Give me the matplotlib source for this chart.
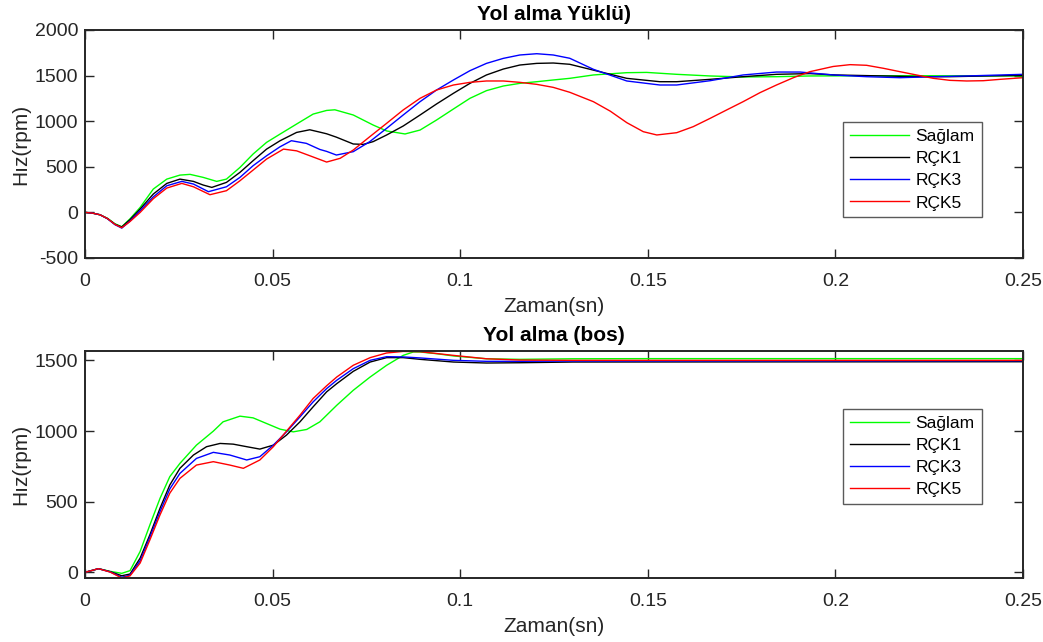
import matplotlib
matplotlib.use("Agg")
import matplotlib.pyplot as plt

plt.rcParams['font.family'] = ['Liberation Sans', 'DejaVu Sans']
plt.rcParams['axes.unicode_minus'] = False

# --- top panel: Yol alma Yüklü) ---
t_g1 = [0, 0.002, 0.004, 0.006, 0.008, 0.0098, 0.012, 0.0147, 0.0182, 0.0218, 0.0253, 0.028,
        0.0315, 0.0351, 0.0377, 0.0413, 0.0448, 0.0484, 0.052, 0.0564, 0.0608, 0.0644, 0.0666,
        0.0715, 0.0768, 0.0804, 0.0853, 0.0893, 0.0937, 0.0982, 0.1026, 0.107, 0.1115, 0.1159,
        0.1204, 0.1248, 0.1292, 0.1355, 0.1444, 0.1497, 0.1577, 0.1666, 0.1754, 0.1843, 0.1932,
        0.2, 0.22, 0.25]
v_g1 = [0, -8, -26, -65, -125, -157, -70, 55, 256, 365, 409, 417,
        384, 340, 365, 493, 640, 768, 859, 969, 1078, 1118, 1125,
        1068, 958, 893, 860, 903, 1013, 1134, 1251, 1335, 1386, 1415,
        1433, 1452, 1470, 1507, 1532, 1535, 1514, 1496, 1485, 1488, 1496,
        1497, 1499, 1496]

t_k1 = [0, 0.002, 0.004, 0.006, 0.008, 0.0098, 0.012, 0.0147, 0.0182, 0.0218, 0.0253, 0.0289,
        0.0315, 0.0338, 0.0377, 0.0413, 0.0448, 0.0484, 0.052, 0.0564, 0.0599, 0.0626, 0.0644,
        0.067, 0.0715, 0.0742, 0.0768, 0.0804, 0.0848, 0.0893, 0.0937, 0.0982, 0.1026, 0.107,
        0.1115, 0.1159, 0.1204, 0.1248, 0.1292, 0.1355, 0.1444, 0.1532, 0.1577, 0.1666, 0.1754,
        0.1843, 0.1932, 0.2, 0.2128, 0.2216, 0.2305, 0.24, 0.25]
v_k1 = [0, -8, -26, -68, -130, -160, -80, 37, 201, 318, 365, 340,
        300, 274, 329, 439, 567, 694, 786, 877, 906, 880, 862,
        825, 750, 746, 776, 849, 947, 1068, 1189, 1306, 1415, 1507,
        1572, 1616, 1634, 1638, 1624, 1560, 1470, 1433, 1433, 1459, 1488,
        1514, 1522, 1507, 1496, 1488, 1488, 1496, 1503]

t_b1 = [0, 0.002, 0.004, 0.006, 0.008, 0.0098, 0.012, 0.0147, 0.0182, 0.0218, 0.0258, 0.0289,
        0.0329, 0.0377, 0.0413, 0.0448, 0.0484, 0.052, 0.055, 0.059, 0.0626, 0.0644, 0.067,
        0.0715, 0.0759, 0.0804, 0.0848, 0.0893, 0.0937, 0.0982, 0.1026, 0.107, 0.1115, 0.1159,
        0.1204, 0.1248, 0.1292, 0.1355, 0.1444, 0.1532, 0.1577, 0.1666, 0.1754, 0.1843, 0.1906,
        0.1994, 0.2083, 0.2172, 0.2261, 0.235, 0.25]
v_b1 = [0, -8, -26, -70, -135, -172, -95, 18, 170, 292, 340, 311,
        227, 281, 384, 512, 621, 720, 786, 757, 690, 669, 629,
        666, 776, 922, 1068, 1214, 1342, 1452, 1554, 1634, 1689, 1726,
        1740, 1726, 1690, 1569, 1441, 1397, 1397, 1444, 1507, 1539, 1539,
        1507, 1488, 1477, 1488, 1496, 1514]

t_r1 = [0, 0.002, 0.004, 0.006, 0.008, 0.0098, 0.012, 0.0147, 0.0182, 0.0218, 0.0258, 0.0289,
        0.0333, 0.0377, 0.0413, 0.0448, 0.0484, 0.0529, 0.0564, 0.06, 0.0644, 0.068, 0.0715,
        0.0759, 0.0804, 0.0848, 0.0893, 0.0937, 0.0982, 0.1026, 0.107, 0.1115, 0.1159, 0.1204,
        0.1248, 0.1292, 0.1355, 0.14, 0.1444, 0.1488, 0.1524, 0.1577, 0.1621, 0.1666, 0.171,
        0.1754, 0.1799, 0.1843, 0.1888, 0.1932, 0.1994, 0.2039, 0.2083, 0.2128, 0.2172, 0.2216,
        0.2261, 0.2305, 0.235, 0.2394, 0.2439, 0.25]
v_r1 = [0, -8, -26, -68, -132, -168, -100, 0, 150, 267, 318, 281,
        194, 238, 347, 464, 585, 694, 675, 620, 552, 593, 684,
        830, 977, 1123, 1251, 1342, 1397, 1426, 1441, 1441, 1426, 1404,
        1371, 1317, 1214, 1110, 984, 885, 849, 874, 940, 1031, 1123,
        1214, 1313, 1397, 1477, 1543, 1600, 1620, 1613, 1580, 1543, 1507,
        1470, 1448, 1441, 1444, 1459, 1477]

# --- bottom panel: Yol alma (bos) ---
t_g2 = [0, 0.0036, 0.0067, 0.0098, 0.012, 0.0147, 0.0173, 0.02, 0.0226, 0.0253, 0.0297, 0.0342,
        0.0368, 0.0413, 0.0448, 0.0484, 0.052, 0.0555, 0.0591, 0.0626, 0.0671, 0.0715, 0.076,
        0.0804, 0.0848, 0.0875, 0.0893, 0.0937, 0.0982, 0.107, 0.1159, 0.13, 0.15, 0.25]
v_g2 = [0, 26, 7, -7, 12, 148, 336, 524, 677, 771, 900, 999,
        1065, 1105, 1093, 1053, 1013, 994, 1011, 1065, 1182, 1288, 1382,
        1465, 1535, 1559, 1559, 1547, 1531, 1511, 1507, 1511, 1512, 1512]

t_k2 = [0, 0.0036, 0.0067, 0.0098, 0.012, 0.0147, 0.0173, 0.02, 0.0226, 0.0253, 0.0289, 0.0324,
        0.036, 0.0395, 0.0431, 0.0466, 0.0502, 0.0537, 0.0573, 0.0608, 0.0644, 0.0671, 0.0715,
        0.076, 0.0804, 0.0848, 0.0893, 0.0982, 0.107, 0.1159, 0.13, 0.25]
v_k2 = [0, 26, 5, -24, -12, 101, 266, 454, 618, 736, 830, 889,
        912, 907, 889, 872, 900, 971, 1065, 1171, 1277, 1335, 1422,
        1488, 1519, 1519, 1507, 1488, 1481, 1483, 1488, 1490]

t_b2 = [0, 0.0036, 0.0067, 0.0098, 0.012, 0.0147, 0.0173, 0.02, 0.0226, 0.0253, 0.0297, 0.0342,
        0.0386, 0.0431, 0.0466, 0.0502, 0.0537, 0.0573, 0.0608, 0.0644, 0.0671, 0.0715, 0.076,
        0.0804, 0.0848, 0.0893, 0.0982, 0.107, 0.1159, 0.13, 0.25]
v_b2 = [0, 26, 3, -35, -20, 82, 250, 430, 590, 700, 806, 849,
        830, 795, 818, 900, 994, 1100, 1206, 1300, 1359, 1441, 1500,
        1526, 1524, 1517, 1500, 1493, 1493, 1495, 1497]

t_r2 = [0, 0.0036, 0.0067, 0.0098, 0.012, 0.0147, 0.0173, 0.02, 0.0226, 0.0253, 0.0297, 0.0342,
        0.0386, 0.0422, 0.0466, 0.0502, 0.0537, 0.0573, 0.0608, 0.0644, 0.0671, 0.0715, 0.076,
        0.0804, 0.0848, 0.0893, 0.0982, 0.107, 0.1159, 0.13, 0.25]
v_r2 = [0, 26, 2, -40, -25, 66, 230, 407, 560, 665, 759, 783,
        759, 736, 795, 889, 999, 1112, 1230, 1320, 1382, 1465, 1519,
        1552, 1563, 1561, 1535, 1511, 1502, 1500, 1500]

labels = ['Sağlam', 'RÇK1', 'RÇK3', 'RÇK5']
colors = ['#00ff00', 'black', 'blue', 'red']
xticks = [0, 0.05, 0.1, 0.15, 0.2, 0.25]
xticklabels = ['0', '0.05', '0.1', '0.15', '0.2', '0.25']

fig = plt.figure(figsize=(10.43, 6.42), dpi=100)
ax1 = fig.add_axes([85 / 1043, 1 - 258 / 642, 938 / 1043, 228 / 642])
ax2 = fig.add_axes([85 / 1043, 1 - 578 / 642, 938 / 1043, 227 / 642])

panels = [
    (ax1, [(t_g1, v_g1), (t_k1, v_k1), (t_b1, v_b1), (t_r1, v_r1)],
     'Yol alma Yüklü)', (-500, 2000), [-500, 0, 500, 1000, 1500, 2000], 0.596),
    (ax2, [(t_g2, v_g2), (t_k2, v_k2), (t_b2, v_b2), (t_r2, v_r2)],
     'Yol alma (bos)', (-40, 1566), [0, 500, 1000, 1500], 0.746),
]

for ax, series, title, ylim, yticks, leg_top in panels:
    for (t, v), c, lab in zip(series, colors, labels):
        ax.plot(t, v, color=c, lw=1.0, label=lab)
    ax.set_xlim(0, 0.25)
    ax.set_ylim(*ylim)
    ax.set_xticks(xticks)
    ax.set_xticklabels(xticklabels)
    ax.set_yticks(yticks)
    ax.tick_params(direction='in', length=6.5, width=1.0, top=True, right=True,
                   labelsize=14, colors='#262626')
    ax.tick_params(axis='x', pad=11)
    ax.tick_params(axis='y', pad=5)
    for sp in ax.spines.values():
        sp.set_linewidth(1.4)
        sp.set_color('#262626')
    ax.set_title(title, fontsize=15, fontweight='bold', pad=7)
    ax.set_xlabel('Zaman(sn)', fontsize=15, color='#262626', labelpad=5)
    ax.set_ylabel('Hız(rpm)', fontsize=15, color='#262626', labelpad=3)
    leg = ax.legend(loc='upper right', bbox_to_anchor=(0.956, leg_top), fontsize=12.5,
                    fancybox=False, framealpha=1, edgecolor='#5a5a5a', handlelength=3.4,
                    labelspacing=0.4, borderpad=0.4, handletextpad=0.4, borderaxespad=0)
    leg.get_frame().set_linewidth(1.0)

fig.savefig('out.png', dpi=100)
